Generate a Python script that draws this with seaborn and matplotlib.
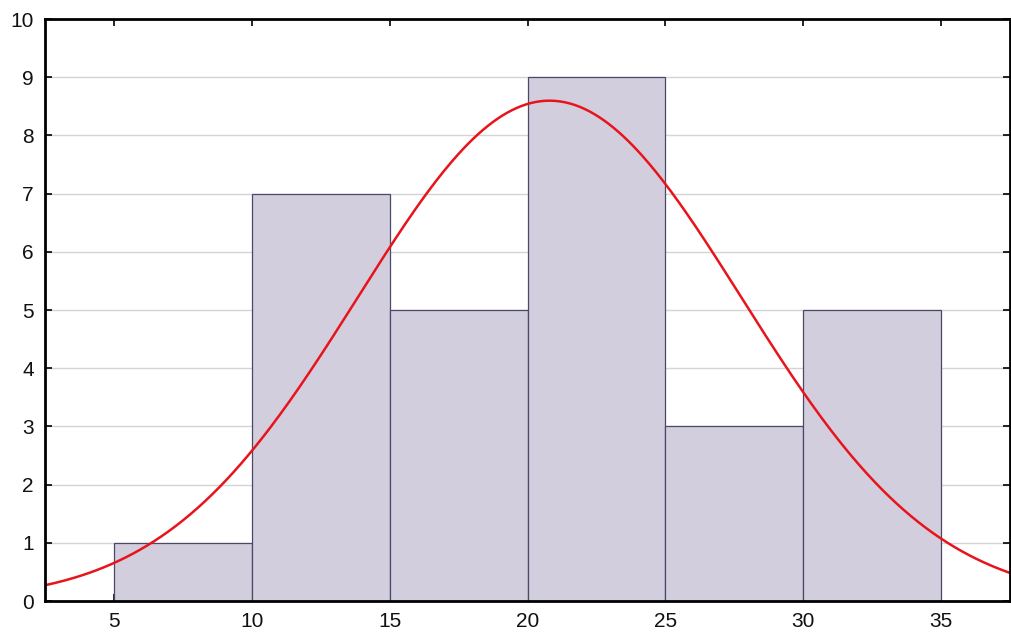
import numpy as np
import pandas as pd
import matplotlib
matplotlib.use("Agg")
import matplotlib.pyplot as plt
import seaborn as sns

# Histogram bins and counts
bin_edges = [5, 10, 15, 20, 25, 30, 35]
bin_mids = [7.5, 12.5, 17.5, 22.5, 27.5, 32.5]
counts = [1, 7, 5, 9, 3, 5]

# Fitted normal distribution parameters
fit_mean = 20.8
fit_sd = 6.96

x_ticks = [5, 10, 15, 20, 25, 30, 35]
y_ticks = list(range(0, 11))

sns.set_theme(style="white")
plt.rcParams["font.family"] = ["Liberation Sans", "DejaVu Sans"]

fig = plt.figure(figsize=(10.12, 6.36), dpi=100)
ax = fig.add_axes([0.0445, 0.055, 0.9535, 0.915])

# horizontal grid lines
ax.set_axisbelow(True)
ax.yaxis.grid(True, color="#d4d4d4", linewidth=1.0)
ax.xaxis.grid(False)

df = pd.DataFrame({"value": bin_mids, "count": counts})
sns.histplot(data=df, x="value", weights="count", bins=bin_edges, ax=ax,
             color="#d3cedd", alpha=1.0, edgecolor="#4a4a68", linewidth=0.9)

# expected frequency curve: N * bin width * normal pdf
n_total = sum(counts)
width = bin_edges[1] - bin_edges[0]
xs = np.linspace(2.5, 37.5, 400)
ys = n_total * width * np.exp(-0.5 * ((xs - fit_mean) / fit_sd) ** 2) / (fit_sd * np.sqrt(2 * np.pi))
sns.lineplot(x=xs, y=ys, ax=ax, color="#e8141c", linewidth=1.8)

ax.set_xlim(2.5, 37.5)
ax.set_ylim(0, 10)
ax.set_xticks(x_ticks)
ax.set_yticks(y_ticks)
ax.set_xlabel("")
ax.set_ylabel("")

for side in ["left", "bottom", "top", "right"]:
    ax.spines[side].set_visible(True)
    ax.spines[side].set_color("black")
    ax.spines[side].set_linewidth(2.0)

ax.tick_params(axis="both", which="both", direction="in", length=5, width=1.2,
               color="black", labelsize=15, labelcolor="#111111",
               top=True, right=True, left=True, bottom=True, pad=8)

fig.savefig("out.png", dpi=100)
